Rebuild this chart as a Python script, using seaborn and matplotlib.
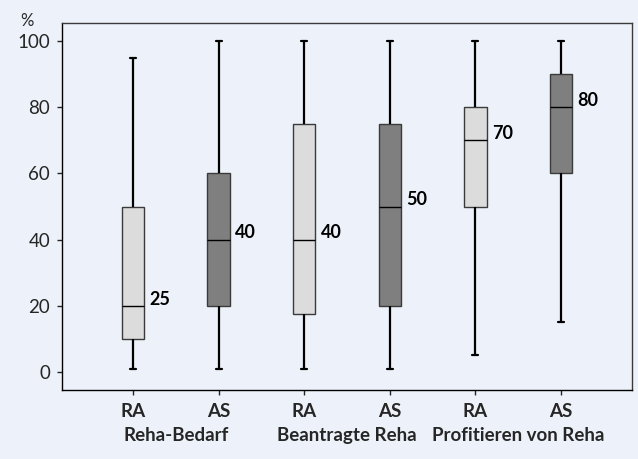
import matplotlib
matplotlib.use("Agg")
import matplotlib.pyplot as plt
import matplotlib.transforms as mtransforms
import seaborn as sns
import pandas as pd

# categories
groups = ["Reha-Bedarf", "Beantragte Reha", "Profitieren von Reha"]
cohorts = ["RA", "AS"]

# five-number summaries: min, Q1, median, Q3, max
ra_stats = [[1, 10, 20, 50, 95], [1, 17.5, 40, 75, 100], [5, 50, 70, 80, 100]]
as_stats = [[1, 20, 40, 60, 100], [1, 20, 50, 75, 100], [15, 60, 80, 90, 100]]

# bold numbers printed next to each box
ra_labels = [25, 40, 70]
as_labels = [40, 50, 80]

y_ticks = [0, 20, 40, 60, 80, 100]

# build long table; 5 points per box give exact quartiles with linear percentiles
rows = []
keys = []
label_vals = []
med_vals = []
for gi, g in enumerate(groups):
    for c, st, lb in (("RA", ra_stats[gi], ra_labels[gi]), ("AS", as_stats[gi], as_labels[gi])):
        key = f"{g} {c}"
        keys.append(key)
        label_vals.append(lb)
        med_vals.append(st[2])
        for v in st:
            rows.append({"key": key, "cohort": c, "value": v})
df = pd.DataFrame(rows)

bg = "#edf2fa"
palette = {k: ("#dcdcdc" if k.endswith("RA") else "#7f7f7f") for k in keys}

sns.set_style("white")
plt.rcParams["font.family"] = ["Lato", "DejaVu Sans"]

fig = plt.figure(figsize=(6.38, 4.59), dpi=100)
fig.patch.set_facecolor(bg)
ax = fig.add_axes([62 / 638, 69 / 459, 570 / 638, 367 / 459])
ax.set_facecolor(bg)

sns.boxplot(
    data=df, x="key", y="value", hue="key", order=keys, hue_order=keys,
    palette=palette, width=0.26, whis=(0, 100), linecolor="#3a3a3a",
    linewidth=1.0, capwidths=0.07, legend=False, ax=ax, fliersize=0,
    medianprops=dict(color="black", linewidth=1.0),
    whiskerprops=dict(color="black", linewidth=1.6),
    capprops=dict(color="black", linewidth=1.6),
)

for i, (lb, md) in enumerate(zip(label_vals, med_vals)):
    ax.text(i + 0.19, md + 2, str(lb), fontsize=13, fontweight="bold",
            ha="left", va="center", color="black")

ax.set_xlim(-0.83, 5.83)
ax.set_ylim(-5.5, 105.5)
ax.set_yticks(y_ticks)
ax.set_xticks(range(len(keys)))
ax.set_xticklabels([k.split()[-1] for k in keys], fontweight="bold")
ax.set_xlabel("")
ax.set_ylabel("")
ax.tick_params(axis="y", labelsize=13.5, length=3.6, width=1, direction="out", pad=5, left=True)
ax.tick_params(axis="x", labelsize=13.5, length=3.6, width=1, direction="out", pad=6, bottom=True)

for s in ax.spines.values():
    s.set_visible(True)
    s.set_color("#3a3a3a")
    s.set_linewidth(1.0)
ax.spines["left"].set_color("black")
ax.spines["bottom"].set_color("black")

# group labels under each RA/AS pair
trans = mtransforms.blended_transform_factory(ax.transData, ax.transAxes)
for gi, g in enumerate(groups):
    ax.text(gi * 2 + 0.5, -0.125, g, transform=trans, ha="center", va="center",
            fontsize=13.5, fontweight="bold")

fig.text(27 / 638, 1 - 21 / 459, "%", ha="center", va="center", fontsize=12)

fig.savefig("out.png", dpi=100, facecolor=bg)
